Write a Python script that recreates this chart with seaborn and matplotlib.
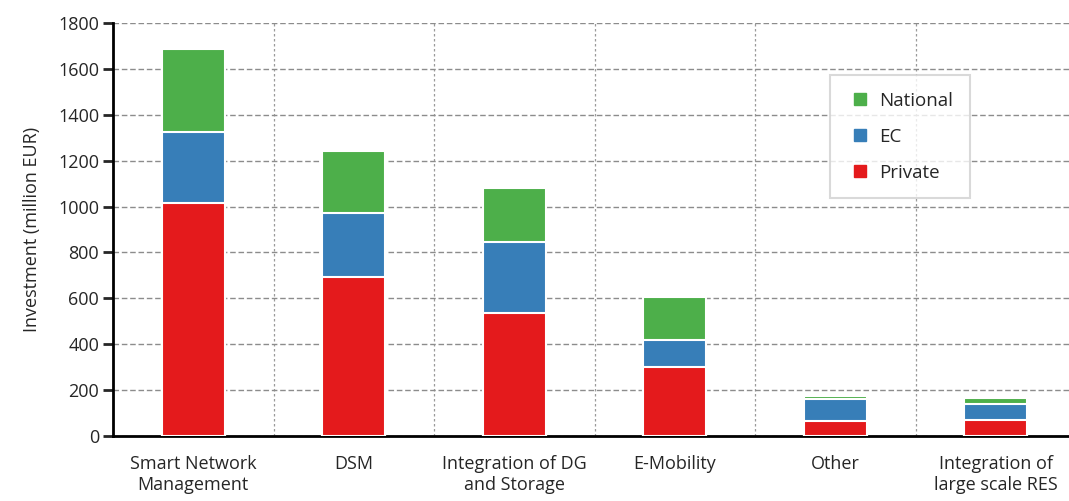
import matplotlib
matplotlib.use("Agg")
import matplotlib.pyplot as plt
import seaborn as sns
import numpy as np
import pandas as pd
from matplotlib.lines import Line2D

# data (million EUR)
categories = ["Smart Network\nManagement", "DSM", "Integration of DG\nand Storage",
              "E-Mobility", "Other", "Integration of\nlarge scale RES"]
private = [1015, 695, 537, 300, 67, 68]
ec = [310, 275, 308, 117, 94, 73]
national = [360, 270, 235, 190, 15, 26]

col_private = "#E41A1C"
col_ec = "#377EB8"
col_national = "#4DAF4A"

sns.set_style("white")
plt.rcParams["font.family"] = ["Open Sans", "DejaVu Sans"]

df = pd.DataFrame({"cat": categories, "Private": private, "EC": ec, "National": national})
df["lvl_ec"] = df["Private"] + df["EC"]
df["lvl_nat"] = df["lvl_ec"] + df["National"]

fig = plt.figure(figsize=(10.69, 5.01), dpi=100)
ax = fig.add_axes([113 / 1069, 1 - 436 / 501, 1 - 113 / 1069, (436 - 23) / 501])

# stacked bars: draw cumulative heights from the top layer down
for col, c in [("lvl_nat", col_national), ("lvl_ec", col_ec), ("Private", col_private)]:
    sns.barplot(data=df, x="cat", y=col, color=c, width=0.39, saturation=1,
                edgecolor="white", linewidth=1.5, ax=ax, zorder=3)

ax.set_ylim(0, 1800)
ax.set_yticks(np.arange(0, 1801, 200))
ax.set_xlim(-0.5, 5.5 - 7 / 160.5)

# gridlines
ax.yaxis.grid(True, linestyle=(0, (4, 2)), color="#8c8c8c", linewidth=1.0, zorder=0)
ax.set_xticks(np.arange(0.5, 5.5, 1), minor=True)
ax.xaxis.grid(True, which="minor", linestyle=(0, (2, 2)), color="#9a9a9a", linewidth=0.9, zorder=0)
ax.xaxis.grid(False, which="major")

ax.tick_params(axis="x", which="major", length=0, pad=14, labelsize=13)
ax.tick_params(axis="x", which="minor", length=8, width=2, direction="out", color="black")
ax.tick_params(axis="y", length=7, width=2, direction="out", labelsize=13, pad=3, left=True)

for s in ["top", "right"]:
    ax.spines[s].set_visible(False)
for s in ["left", "bottom"]:
    ax.spines[s].set_linewidth(2)
    ax.spines[s].set_color("black")

ax.set_xlabel("")
ax.set_ylabel("Investment (million EUR)", fontsize=13, labelpad=12)
for lbl in ax.get_xticklabels():
    lbl.set_linespacing(1.2)

hnd = [Line2D([], [], marker="s", linestyle="", markersize=9, color=c)
       for c in [col_national, col_ec, col_private]]
leg = ax.legend(hnd, ["National", "EC", "Private"], loc="upper left",
                bbox_to_anchor=(717 / 956, 1 - 52 / 413), fontsize=13.5,
                frameon=True, fancybox=False, edgecolor="#d0d0d0",
                labelspacing=0.95, handletextpad=0.3, borderpad=0.9,
                borderaxespad=0, handlelength=1.4)
leg.get_frame().set_linewidth(1.5)

fig.savefig("out.png", dpi=100)
